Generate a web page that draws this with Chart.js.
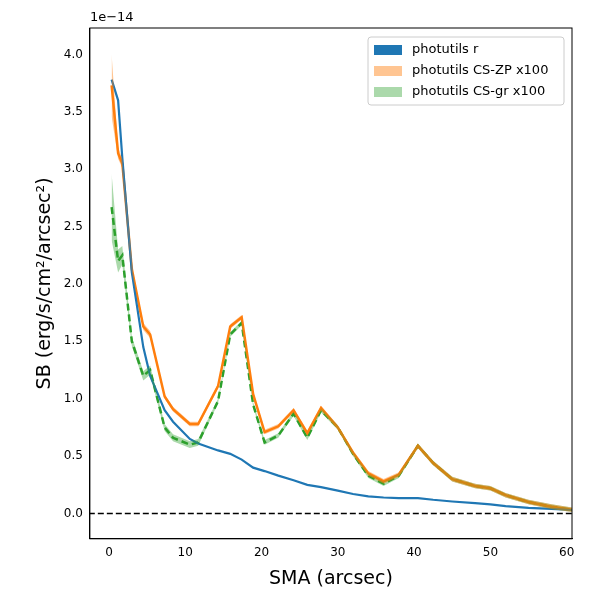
<!DOCTYPE html>
<html>
<head>
<style>body{margin:0;background:#fff}#wrap{width:600px;height:600px}</style>
<script src="https://cdn.jsdelivr.net/npm/chart.js"></script>
</head>
<body>
<div id="wrap"><canvas id="c"></canvas></div>
<script>
const sma = [0.35,1.2,1.75,3.0,4.5,5.4,7.3,8.4,10.6,11.7,14.3,15.9,17.4,18.9,20.4,22.2,24.2,26,27.8,30,32,34,36,38,40.5,42.5,45,48,50,52,55,58,61];
const sbR = [3.78,3.6,3.1,2.1,1.45,1.2,0.9,0.8,0.65,0.61,0.55,0.52,0.47,0.4,0.37,0.33,0.29,0.25,0.23,0.2,0.17,0.15,0.14,0.135,0.135,0.12,0.105,0.09,0.08,0.065,0.05,0.04,0.03];
const sbZP = [3.73,3.14,3.05,2.13,1.63,1.56,1.02,0.91,0.78,0.78,1.11,1.63,1.71,1.04,0.71,0.76,0.90,0.70,0.92,0.75,0.53,0.35,0.28,0.34,0.59,0.44,0.30,0.24,0.22,0.16,0.10,0.06,0.03];
const errZP = [0.27,0.05,0.04,0.03,0.03,0.03,0.02,0.02,0.02,0.02,0.02,0.02,0.02,0.02,0.02,0.02,0.02,0.02,0.02,0.02,0.02,0.02,0.02,0.02,0.02,0.02,0.02,0.02,0.02,0.02,0.02,0.02,0.02];
const sbGR = [2.67,2.2,2.25,1.5,1.2,1.25,0.75,0.66,0.6,0.62,0.98,1.56,1.66,0.95,0.62,0.68,0.87,0.66,0.90,0.75,0.52,0.33,0.26,0.33,0.59,0.44,0.30,0.24,0.22,0.16,0.10,0.06,0.03];
const errGR = [0.29,0.1,0.08,0.04,0.04,0.04,0.03,0.03,0.03,0.03,0.02,0.02,0.02,0.02,0.02,0.02,0.02,0.02,0.02,0.02,0.02,0.02,0.02,0.02,0.02,0.02,0.02,0.02,0.02,0.02,0.02,0.02,0.02];
const xTicks = [0,10,20,30,40,50,60];
const yTicks = [0,0.5,1,1.5,2,2.5,3,3.5,4];
const legendItems = [
  ['photutils r', '#1f77b4'],
  ['photutils CS-ZP x100', 'rgba(255,127,14,0.45)'],
  ['photutils CS-gr x100', 'rgba(44,160,44,0.4)']
];

const pts = (ys, d) => sma.map((x, i) => ({x: x, y: ys[i] + (d ? d[i] : 0)}));
const neg = a => a.map(v => -v);
const line = (label, data, color, w, dash) => ({label, data, borderColor: color, borderWidth: w, borderDash: dash || [], pointRadius: 0, fill: false, tension: 0});
const band = (data, color, fill) => ({label: '', data, borderColor: 'rgba(0,0,0,0)', borderWidth: 0, backgroundColor: color, pointRadius: 0, fill: fill, tension: 0});

const extras = {
  id: 'extras',
  afterDraw(chart) {
    const c = chart.ctx, a = chart.chartArea;
    c.save();
    // frame
    c.strokeStyle = '#000'; c.lineWidth = 1;
    c.strokeRect(a.left, a.top, a.right - a.left, a.bottom - a.top);
    // offset text
    c.font = '13px "DejaVu Sans"'; c.fillStyle = '#000'; c.textBaseline = 'bottom';
    c.fillText('1e\u221214', a.left, a.top - 4);
    // legend
    const w = 196, h = 68, x0 = a.right - w - 8, y0 = a.top + 9;
    c.fillStyle = 'rgba(255,255,255,0.8)'; c.strokeStyle = '#ccc';
    c.beginPath(); c.roundRect(x0, y0, w, h, 3); c.fill(); c.stroke();
    c.font = '13px "DejaVu Sans"'; c.textBaseline = 'middle';
    legendItems.forEach(([t, col], i) => {
      const yy = y0 + 13 + i * 21;
      c.fillStyle = col; c.fillRect(x0 + 6, yy - 5, 28, 10);
      c.fillStyle = '#000'; c.fillText(t, x0 + 44, yy);
    });
    c.restore();
  }
};

new Chart(document.getElementById('c'), {
  type: 'line',
  data: {
    datasets: [
      band(pts(sbZP, errZP), 'rgba(255,127,14,0.45)', false),
      band(pts(sbZP, neg(errZP)), 'rgba(255,127,14,0.45)', '-1'),
      band(pts(sbGR, errGR), 'rgba(44,160,44,0.4)', false),
      band(pts(sbGR, neg(errGR)), 'rgba(44,160,44,0.4)', '-1'),
      line('photutils r', pts(sbR), '#1f77b4', 2.2),
      line('photutils CS-ZP x100', pts(sbZP), '#ff7f0e', 2.5),
      line('photutils CS-gr x100', pts(sbGR), '#2ca02c', 2.5, [7, 4]),
      line('', [{x: -5, y: 0}, {x: 65, y: 0}], '#000', 1.5, [6, 3])
    ]
  },
  options: {
    responsive: true, maintainAspectRatio: false, animation: false,
    layout: {padding: {top: 28, right: 28, left: 30, bottom: 6}},
    plugins: {tooltip: {enabled: false}, legend: {display: false}},
    scales: {
      x: {
        type: 'linear', min: -2.5, max: 60.7,
        afterBuildTicks: s => { s.ticks = xTicks.map(v => ({value: v})); },
        grid: {display: false, tickLength: 4, tickColor: '#000'},
        border: {color: '#000'},
        ticks: {color: '#000', font: {size: 12, family: 'DejaVu Sans'}},
        title: {display: true, text: 'SMA (arcsec)', color: '#000', font: {size: 19, family: 'DejaVu Sans'}}
      },
      y: {
        type: 'linear', min: -0.22, max: 4.23,
        afterBuildTicks: s => { s.ticks = yTicks.map(v => ({value: v})); },
        grid: {display: false, tickLength: 4, tickColor: '#000'},
        border: {color: '#000'},
        ticks: {color: '#000', font: {size: 12, family: 'DejaVu Sans'}, callback: v => v.toFixed(1)},
        title: {display: true, text: 'SB (erg/s/cm\u00b2/arcsec\u00b2)', color: '#000', font: {size: 19, family: 'DejaVu Sans'}}
      }
    }
  },
  plugins: [extras]
});
</script>
</body>
</html>
